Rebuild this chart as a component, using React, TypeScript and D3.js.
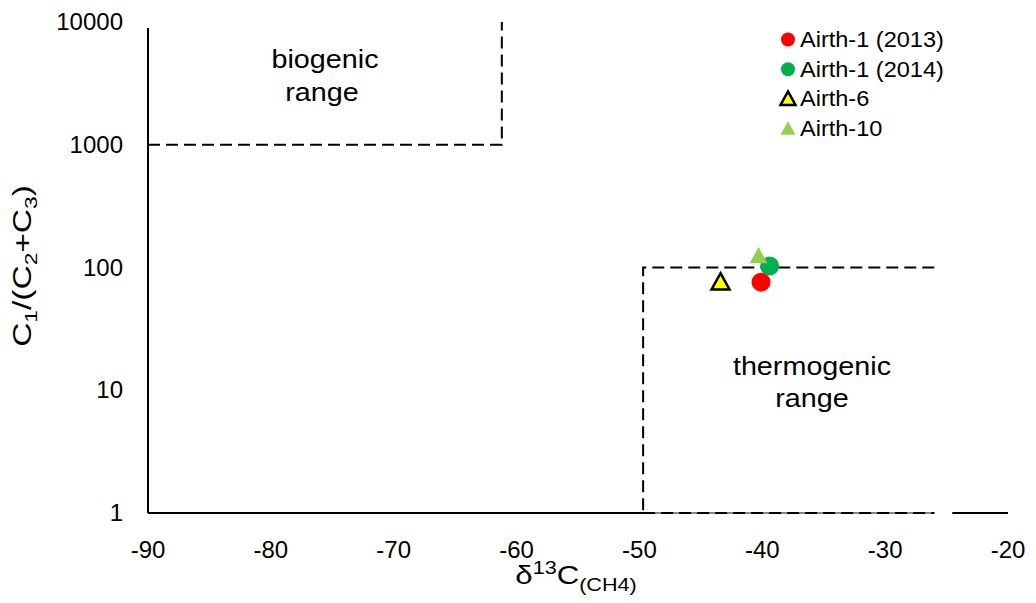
import React from "react";
import * as d3 from "d3";

const xTicks = [-90, -80, -70, -60, -50, -40, -30, -20];
const yTicks = [1, 10, 100, 1000, 10000];

const seriesNames = ["Airth-1 (2013)", "Airth-1 (2014)", "Airth-6", "Airth-10"];
const seriesX = [-40.1, -39.4, -43.4, -40.3];
const seriesY = [76, 103, 76, 124];
const seriesShape = ["circle", "circle", "triangle", "triangle"];
const seriesFill = ["#ff0000", "#00b050", "#ffff00", "#92d050"];
const seriesStroke = ["none", "none", "#000000", "none"];

const biogenicBox = { x0: -90, x1: -61.2, y0: 1000, y1: 10000 };
const thermoBox = { x0: -49.7, x1: -26, y0: 1, y1: 100 };

const W = 1036;
const H = 603;
const FONT = "Liberation Sans, Arial, sans-serif";

export default function App() {
  const x = d3.scaleLinear().domain([-90, -20]).range([148, 1008]);
  const y = d3.scaleLog().domain([1, 10000]).range([513, 22]);

  const tri = (cx: number, cy: number, s: number) => {
    const h = s * 0.9;
    return `M${cx},${cy - h * 0.55} L${cx + s / 2},${cy + h * 0.45} L${cx - s / 2},${cy + h * 0.45} Z`;
  };

  const marker = (i: number, cx: number, cy: number, big: boolean) => {
    if (seriesShape[i] === "circle") {
      return <circle cx={cx} cy={cy} r={big ? 9.5 : 7} fill={seriesFill[i]} stroke="none" />;
    }
    const s = big ? 18 : 15;
    return (
      <path
        d={tri(cx, cy, s)}
        fill={seriesFill[i]}
        stroke={seriesStroke[i]}
        strokeWidth={seriesStroke[i] !== "none" ? 2.5 : 0}
        strokeLinejoin="miter"
      />
    );
  };

  const dash = "12,6";

  return (
    <svg
      width={W}
      height={H}
      style={{ position: "absolute", left: 0, top: 0, background: "#fff" }}
      fontFamily={FONT}
    >
      <rect width={W} height={H} fill="#fff" />
      {/* axes */}
      <line x1={x(-90)} x2={x(-20)} y1={y(1)} y2={y(1)} stroke="#000" strokeWidth={2} />
      <line x1={x(-90)} x2={x(-90)} y1={y(1)} y2={y(10000) + 6} stroke="#000" strokeWidth={2} />

      {/* biogenic box */}
      <path
        d={`M${x(biogenicBox.x0)},${y(biogenicBox.y0)} L${x(biogenicBox.x1)},${y(biogenicBox.y0)} L${x(biogenicBox.x1)},${y(biogenicBox.y1)}`}
        fill="none"
        stroke="#000"
        strokeWidth={2}
        strokeDasharray={dash}
      />
      {/* thermogenic box */}
      <line x1={x(thermoBox.x1)} x2={x(thermoBox.x1) + 18} y1={y(1)} y2={y(1)} stroke="#fff" strokeWidth={2} />
      <line x1={x(thermoBox.x0)} x2={x(thermoBox.x1)} y1={y(1)} y2={y(1)} stroke="#888" strokeWidth={2} />
      <line x1={x(thermoBox.x0)} x2={x(thermoBox.x1)} y1={y(1)} y2={y(1)} stroke="#000" strokeWidth={2} strokeDasharray={dash} />
      <path
        d={`M${x(thermoBox.x1)},${y(thermoBox.y1)} L${x(thermoBox.x0)},${y(thermoBox.y1)} L${x(thermoBox.x0)},${y(thermoBox.y0)}`}
        fill="none"
        stroke="#000"
        strokeWidth={2}
        strokeDasharray={dash}
      />

      {/* tick labels */}
      {xTicks.map((t) => (
        <text key={"x" + t} x={x(t)} y={558} textAnchor="middle" fontSize={24} fill="#000">
          {t}
        </text>
      ))}
      {yTicks.map((t) => (
        <text key={"y" + t} x={123} y={y(t) + 8} textAnchor="end" fontSize={24} fill="#000">
          {t}
        </text>
      ))}

      {/* axis titles */}
      <text transform="translate(576,584) scale(1.2,1)" textAnchor="middle" fontSize={26} fill="#000">
        δ<tspan dy={-10} fontSize={18}>13</tspan>
        <tspan dy={10}>C</tspan>
        <tspan dy={7} fontSize={18}>(CH4)</tspan>
      </text>
      <text
        transform="translate(31,266) rotate(-90) scale(1.34,1)"
        textAnchor="middle"
        fontSize={25}
        fill="#000"
      >
        C<tspan dy={6} fontSize={17}>1</tspan>
        <tspan dy={-6}>/(C</tspan>
        <tspan dy={6} fontSize={17}>2</tspan>
        <tspan dy={-6}>+C</tspan>
        <tspan dy={6} fontSize={17}>3</tspan>
        <tspan dy={-6}>)</tspan>
      </text>

      {/* annotations */}
      <text transform="translate(325,68) scale(1.15,1)" textAnchor="middle" fontSize={25} fill="#000">biogenic</text>
      <text transform="translate(322,101) scale(1.15,1)" textAnchor="middle" fontSize={25} fill="#000">range</text>
      <text transform="translate(812,375) scale(1.15,1)" textAnchor="middle" fontSize={25} fill="#000">thermogenic</text>
      <text transform="translate(812,407) scale(1.15,1)" textAnchor="middle" fontSize={25} fill="#000">range</text>

      {/* points */}
      {seriesNames.map((n, i) => (
        <g key={"p" + i}>{marker(i, x(seriesX[i]), y(seriesY[i]), true)}</g>
      ))}

      {/* legend */}
      {seriesNames.map((n, i) => {
        const ly = 47 + i * 29.7;
        return (
          <g key={"l" + i}>
            {marker(i, 788, ly - 7.5, false)}
            <text transform={`translate(800,${ly}) scale(1.07,1)`} fontSize={22} fill="#000">
              {n}
            </text>
          </g>
        );
      })}
    </svg>
  );
}
